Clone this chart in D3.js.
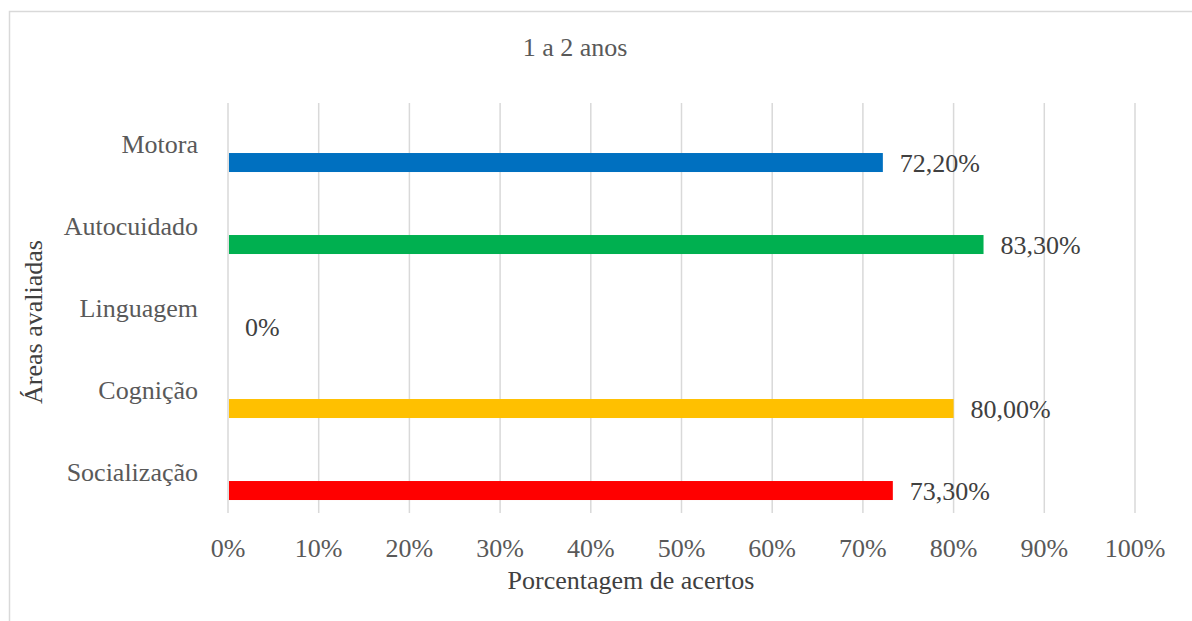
<!DOCTYPE html>
<html>
<head>
<meta charset="utf-8">
<script src="https://cdn.jsdelivr.net/npm/d3@7"></script>
<style>
  html, body { margin: 0; padding: 0; background: #fff; }
  svg { display: block; }
</style>
</head>
<body>
<svg id="chart" width="1192" height="621"></svg>
<script>
const categories = ["Motora", "Autocuidado", "Linguagem", "Cognição", "Socialização"];
const values = [72.2, 83.3, 0, 80.0, 73.3];
const valueLabels = ["72,20%", "83,30%", "0%", "80,00%", "73,30%"];
const barColors = ["#0070C0", "#00B050", "#A5A5A5", "#FFC000", "#FF0000"];
const tickValues = [0, 10, 20, 30, 40, 50, 60, 70, 80, 90, 100];
const tickLabels = ["0%", "10%", "20%", "30%", "40%", "50%", "60%", "70%", "80%", "90%", "100%"];
const title = "1 a 2 anos";
const xTitle = "Porcentagem de acertos";
const yTitle = "Áreas avaliadas";

const FONT = "Liberation Serif";
const svg = d3.select("#chart");
const plot = { left: 228, right: 1135, top: 103, bottom: 513 };

// chart border
svg.append("rect")
  .attr("x", 9.5).attr("y", 11.5)
  .attr("width", 1200).attr("height", 640)
  .attr("fill", "#fff").attr("stroke", "#d9d9d9").attr("stroke-width", 1.5);

const x = d3.scaleLinear().domain([0, 100]).range([plot.left, plot.right]);
const y = d3.scaleBand().domain(categories).range([plot.top, plot.bottom]).padding(0);
const bw = y.bandwidth();

// gridlines
svg.append("g").selectAll("line").data(tickValues).join("line")
  .attr("x1", d => x(d)).attr("x2", d => x(d))
  .attr("y1", plot.top).attr("y2", plot.bottom)
  .attr("stroke", "#d9d9d9").attr("stroke-width", 1.5);

// x tick labels
svg.append("g").selectAll("text").data(tickValues).join("text")
  .attr("font-family", FONT)
  .attr("x", d => x(d)).attr("y", 557)
  .attr("text-anchor", "middle")
  .attr("font-size", 26).attr("fill", "#595959")
  .text((d, i) => tickLabels[i]);

// category labels
svg.append("g").selectAll("text").data(categories).join("text")
  .attr("font-family", FONT)
  .attr("x", 198).attr("y", d => y(d) + bw / 2 + 9)
  .attr("text-anchor", "end")
  .attr("font-size", 26).attr("fill", "#595959")
  .text(d => d);

// bars
const barOff = bw * 0.61, barH = 19;
svg.append("g").selectAll("rect").data(categories).join("rect")
  .attr("x", x(0) + 1)
  .attr("y", d => y(d) + barOff)
  .attr("width", (d, i) => Math.max(0, x(values[i]) - x(0) - 1))
  .attr("height", barH)
  .attr("fill", (d, i) => barColors[i]);

// data labels
svg.append("g").selectAll("text").data(categories).join("text")
  .attr("font-family", FONT)
  .attr("x", (d, i) => x(values[i]) + 17)
  .attr("y", d => y(d) + barOff + barH / 2 + 9)
  .attr("font-size", 26).attr("fill", "#404040")
  .text((d, i) => valueLabels[i]);

// title
svg.append("text")
  .attr("font-family", FONT)
  .attr("x", 575).attr("y", 56)
  .attr("text-anchor", "middle")
  .attr("font-size", 26).attr("fill", "#595959")
  .text(title);

// x axis title
svg.append("text")
  .attr("font-family", FONT)
  .attr("x", 631).attr("y", 589)
  .attr("text-anchor", "middle")
  .attr("font-size", 26).attr("fill", "#404040")
  .text(xTitle);

// y axis title
svg.append("text")
  .attr("font-family", FONT)
  .attr("transform", "translate(42,322) rotate(-90)")
  .attr("text-anchor", "middle")
  .attr("font-size", 26).attr("fill", "#404040")
  .text(yTitle);
</script>
</body>
</html>
